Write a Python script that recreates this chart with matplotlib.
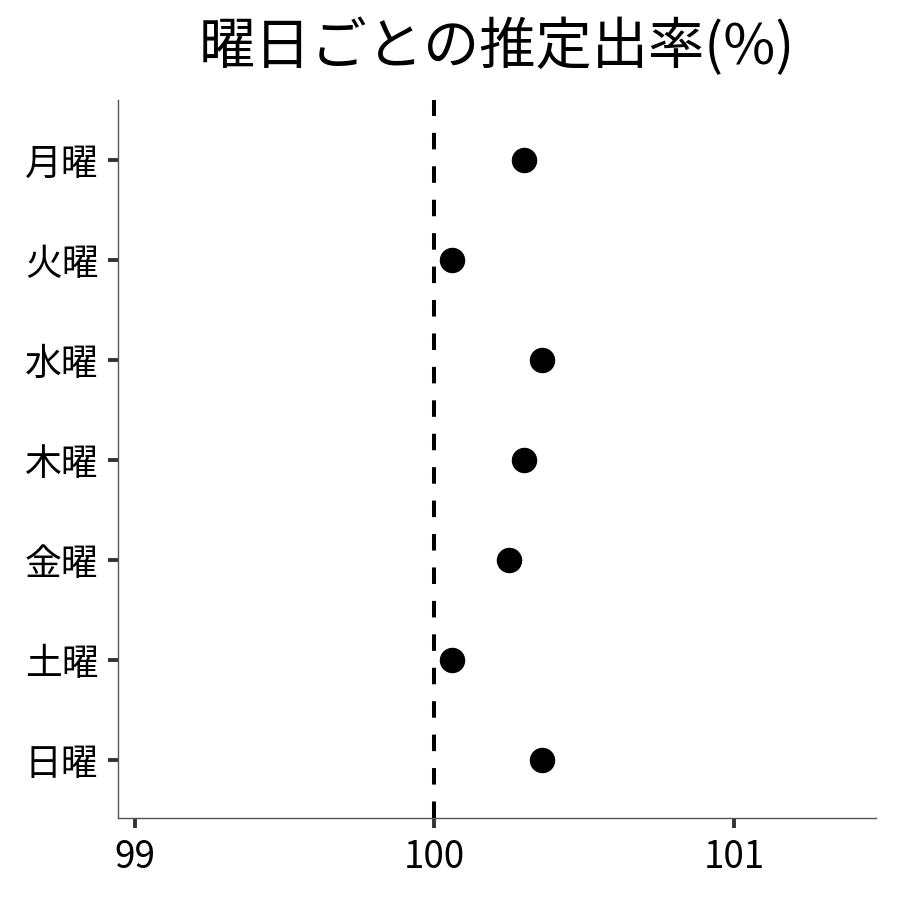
import matplotlib.pyplot as plt

plt.rcParams['font.family'] = ['Noto Sans CJK JP', 'DejaVu Sans']

# 曜日ごとの推定出率
days = ['月曜', '火曜', '水曜', '木曜', '金曜', '土曜', '日曜']
rates = [100.30, 100.06, 100.36, 100.30, 100.25, 100.06, 100.36]
xticks = [99, 100, 101]

fig = plt.figure(figsize=(9, 9), dpi=100)
ax = fig.add_axes([0.131, 0.091, 0.842, 0.798])

pos = list(range(len(days)))
ax.axvline(100, color='black', linestyle=(0, (4.1, 4.2)), linewidth=2.9, zorder=1)
ax.scatter(rates, pos, s=300, color='black', zorder=3)

ax.set_xlim(98.943, 101.473)
ax.set_ylim(6.58, -0.6)
ax.set_xticks(xticks)
ax.set_xticklabels([str(t) for t in xticks])
ax.set_yticks(pos)
ax.set_yticklabels(days)

for side in ['top', 'right']:
    ax.spines[side].set_visible(False)
for side in ['left', 'bottom']:
    ax.spines[side].set_color('#555555')
    ax.spines[side].set_linewidth(1.0)

ax.tick_params(axis='both', length=7.5, width=2.8, color='#333333',
               labelsize=26.5, labelcolor='black', pad=6.5)

ax.set_title('曜日ごとの推定出率(%)', fontsize=40.5, pad=26)

fig.savefig('out.png', dpi=100)
